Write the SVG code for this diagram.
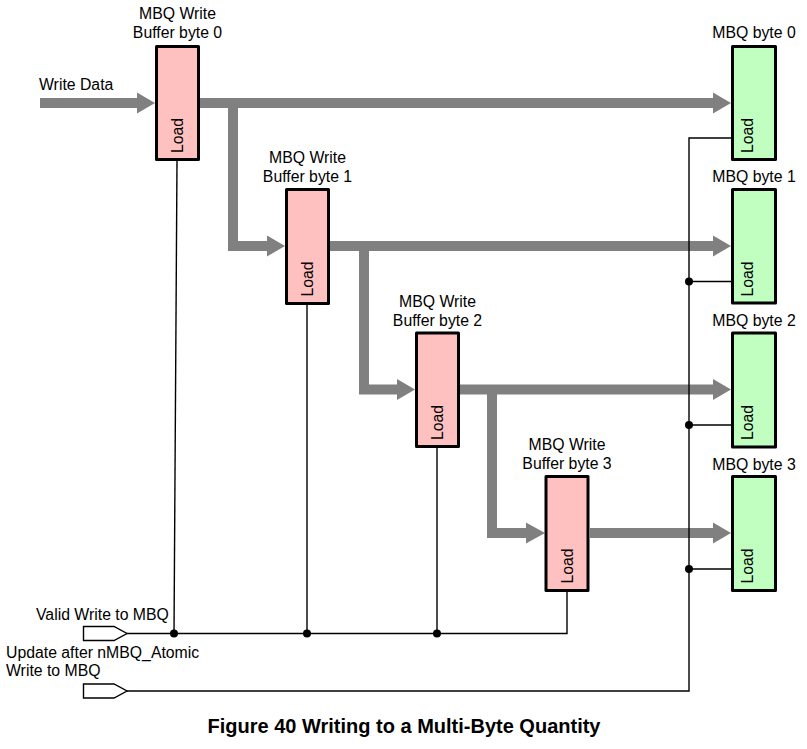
<svg xmlns="http://www.w3.org/2000/svg" width="807" height="749" viewBox="0 0 807 749">
<style>
text{font-family:"Liberation Sans",Arial,sans-serif;font-size:15.8px;fill:#000}
.c{text-anchor:middle}
.title{font-size:20px;font-weight:bold;text-anchor:middle}
.bus{fill:none;stroke:#808080;stroke-width:10;stroke-linejoin:miter;stroke-linecap:butt}
.head{fill:#808080;stroke:none}
.wire{fill:none;stroke:#000;stroke-width:1.4}
.dot{fill:#000}
.buf{fill:#FFC0C0;stroke:#000;stroke-width:3;stroke-linejoin:round}
.mbq{fill:#C0FFC0;stroke:#000;stroke-width:3;stroke-linejoin:round}
.port{fill:#fff;stroke:#000;stroke-width:1.4}
</style>
<rect width="807" height="749" fill="#fff"/>
<g id="connectors">
  <g id="data-bus">
    <path class="bus" d="M40,103 H138"/>
    <polygon class="head" points="155,103 137,92.5 137,113.5"/>
    <path class="bus" d="M200,103 H714"/>
    <polygon class="head" points="731,103 713,92.5 713,113.5"/>
    <path class="bus" d="M233,103 V246 H267"/>
    <polygon class="head" points="285,246 267,235.5 267,256.5"/>
    <path class="bus" d="M330,246 H714"/>
    <polygon class="head" points="731,246 713,235.5 713,256.5"/>
    <path class="bus" d="M364,246 V389.5 H398"/>
    <polygon class="head" points="415,389.5 397,379 397,400"/>
    <path class="bus" d="M460,389.5 H714"/>
    <polygon class="head" points="731,389.5 713,379 713,400"/>
    <path class="bus" d="M492,389.5 V533 H527"/>
    <polygon class="head" points="545,533 526,522.5 526,543.5"/>
    <path class="bus" d="M590,533 H714"/>
    <polygon class="head" points="731,533 713,522.5 713,543.5"/>
  </g>
  <g id="valid-write">
    <polygon class="port" points="83.5,626.5 114,626.5 127,633.5 114,640.5 83.5,640.5"/>
    <path class="wire" d="M127,633.5 H567 V591"/>
    <path class="wire" d="M177,161 L174,633.5"/>
    <path class="wire" d="M307,305 V633.5"/>
    <path class="wire" d="M437,447 V633.5"/>
    <circle class="dot" cx="174" cy="633.5" r="4"/>
    <circle class="dot" cx="307" cy="633.5" r="4"/>
    <circle class="dot" cx="437" cy="633.5" r="4"/>
  </g>
  <g id="update">
    <polygon class="port" points="83.5,684 114,684 127,691 114,698 83.5,698"/>
    <path class="wire" d="M127,691 H689 V138 H731"/>
    <path class="wire" d="M689,281.5 H731"/>
    <path class="wire" d="M689,425 H731"/>
    <path class="wire" d="M689,569 H731"/>
    <circle class="dot" cx="689" cy="281.5" r="4"/>
    <circle class="dot" cx="689" cy="425" r="4"/>
    <circle class="dot" cx="689" cy="569" r="4"/>
  </g>
</g>
<g id="buf0">
  <rect class="buf" x="156.5" y="46.5" width="42" height="113"/>
  <text class="c" x="177.5" y="19">MBQ Write</text>
  <text class="c" x="177.5" y="37.5">Buffer byte 0</text>
  <text class="c" transform="translate(183,135.5) rotate(-90)">Load</text>
</g>
<g id="buf1">
  <rect class="buf" x="286.5" y="189.5" width="42" height="114"/>
  <text class="c" x="307.5" y="162.5">MBQ Write</text>
  <text class="c" x="307.5" y="181.5">Buffer byte 1</text>
  <text class="c" transform="translate(313,279) rotate(-90)">Load</text>
</g>
<g id="buf2">
  <rect class="buf" x="416.5" y="333" width="42" height="113.5"/>
  <text class="c" x="437.5" y="306.5">MBQ Write</text>
  <text class="c" x="437.5" y="325.5">Buffer byte 2</text>
  <text class="c" transform="translate(443,422.5) rotate(-90)">Load</text>
</g>
<g id="buf3">
  <rect class="buf" x="546" y="476.5" width="42" height="114"/>
  <text class="c" x="567" y="449.5">MBQ Write</text>
  <text class="c" x="567" y="468.5">Buffer byte 3</text>
  <text class="c" transform="translate(572.5,566) rotate(-90)">Load</text>
</g>
<g id="mbq0">
  <rect class="mbq" x="732.5" y="46.5" width="43" height="113"/>
  <text class="c" x="754" y="38">MBQ byte 0</text>
  <text class="c" transform="translate(752.5,135.5) rotate(-90)">Load</text>
</g>
<g id="mbq1">
  <rect class="mbq" x="732.5" y="189.5" width="43" height="113.5"/>
  <text class="c" x="754" y="181.5">MBQ byte 1</text>
  <text class="c" transform="translate(752.5,279) rotate(-90)">Load</text>
</g>
<g id="mbq2">
  <rect class="mbq" x="732.5" y="333" width="43" height="114"/>
  <text class="c" x="754" y="326">MBQ byte 2</text>
  <text class="c" transform="translate(752.5,422.5) rotate(-90)">Load</text>
</g>
<g id="mbq3">
  <rect class="mbq" x="732.5" y="476.5" width="43" height="114"/>
  <text class="c" x="754" y="470">MBQ byte 3</text>
  <text class="c" transform="translate(752.5,566) rotate(-90)">Load</text>
</g>
<g id="labels">
  <text x="39" y="89.5">Write Data</text>
  <text x="36" y="620">Valid Write to MBQ</text>
  <text x="6" y="658">Update after nMBQ_Atomic</text>
  <text x="6" y="676">Write to MBQ</text>
  <text class="title" x="404" y="733">Figure 40 Writing to a Multi-Byte Quantity</text>
</g>
</svg>
